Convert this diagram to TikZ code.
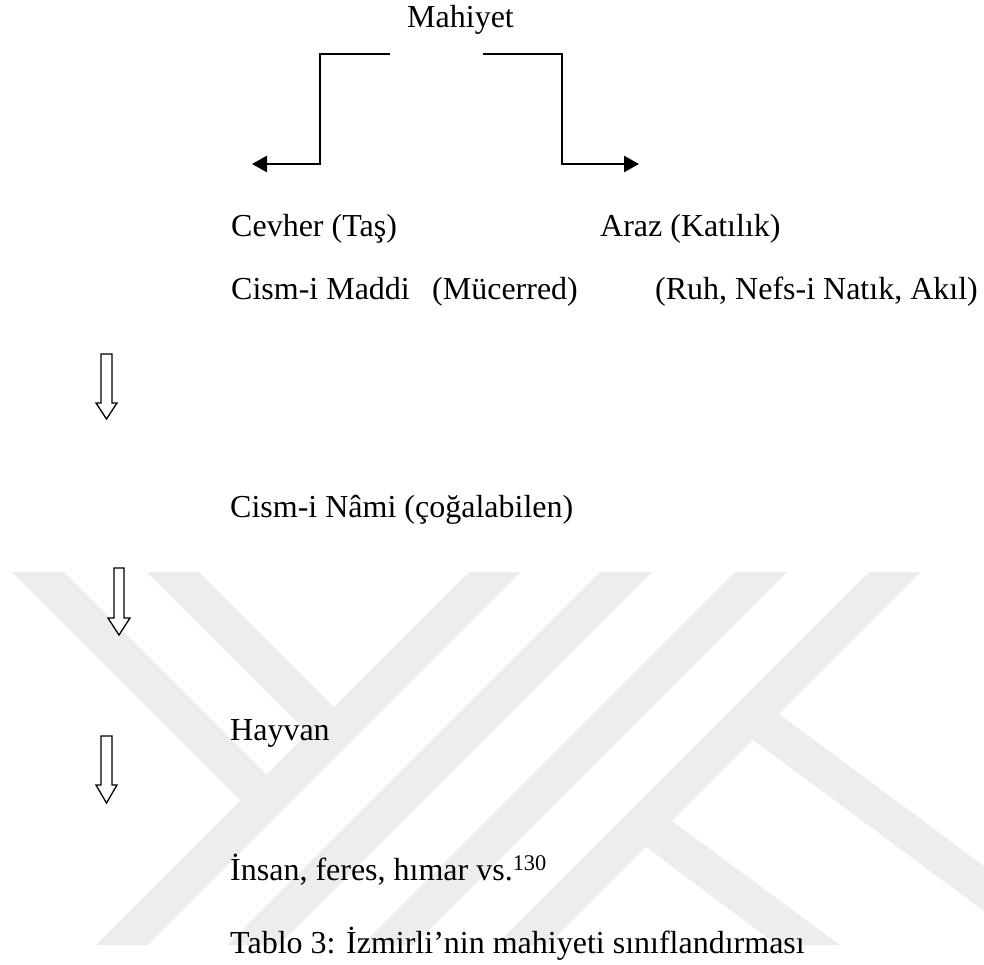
\documentclass[tikz,border=0pt]{standalone}
\usepackage{fontspec}
\setmainfont{Liberation Serif}
\usetikzlibrary{arrows.meta}
\tikzset{
  wm/.style={fill=black!7, draw=none},
  txt/.style={anchor=base west, inner sep=0pt, font=\fontsize{32}{38}\selectfont},
  elbow/.style={line width=2.7pt, -{Triangle[length=15pt,width=16pt]}},
  hollow/.style={draw=black, line width=1.3pt, fill=white, line join=miter},
}
\newcommand\downhollow[6]{%
  \draw[hollow] (#1-#2,#4) -- (#1+#2,#4) -- (#1+#2,#5) -- (#1+#3,#5) -- (#1,#6) -- (#1-#3,#5) -- (#1-#2,#5) -- cycle;}
\begin{document}
\begin{tikzpicture}[x=1pt,y=-1pt]
\useasboundingbox (0,0) rectangle (984,965);
% watermark
\fill[wm] (12,572) -- (64,572) -- (266.5,774.5) -- (240.5,800.5) -- cycle;
\fill[wm] (147,572) -- (199,572) -- (334,707) -- (308,733) -- cycle;
\fill[wm] (469,572) -- (521,572) -- (148,945) -- (96,945) -- cycle;
\fill[wm] (600,572) -- (652,572) -- (279,945) -- (227,945) -- cycle;
\fill[wm] (735,572) -- (787,572) -- (414,945) -- (362,945) -- cycle;
\fill[wm] (869,572) -- (921,572) -- (548,945) -- (496,945) -- cycle;
\fill[wm] (779,714) -- (984,866) -- (984,911) -- (753,740) -- cycle;
\fill[wm] (672,821) -- (840,945) -- (777,945) -- (646,847) -- cycle;
% texts
\node[txt] (mah) at (407,28) {Mahiyet};
\node[txt] (cevher) at (231,237) {Cevher (Taş)};
\node[txt] (araz) at (600,237) {Araz (Katılık)};
\node[txt] (maddi) at (231,300) {Cism-i Maddi};
\node[txt] (mucerred) at (432,300) {(Mücerred)};
\node[txt] (ruh) at (655,300) {(Ruh, Nefs-i Natık, Akıl)};
\node[txt] (nami) at (230,517) {Cism-i Nâmi (çoğalabilen)};
\node[txt] (hayvan) at (230,740) {Hayvan};
\node[txt] (insan) at (230,880) {İnsan, feres, hımar vs.\textsuperscript{130}};
\node[txt] (tablo) at (230,953) {Tablo 3: İzmirli’nin mahiyeti sınıflandırması};
% elbow connectors
\coordinate (lA) at (390,54);
\coordinate (lB) at (320,164);
\coordinate (ltip) at (252,164);
\coordinate (rA) at (483,54);
\coordinate (rB) at (562,164);
\coordinate (rtip) at (639,164);
\draw[elbow] (lA) -| (lB) -- (ltip);
\draw[elbow] (rA) -| (rB) -- (rtip);
% hollow down arrows
\downhollow{106.5}{5.5}{10.5}{354}{403}{419}
\downhollow{119}{5}{11}{568}{618}{635}
\downhollow{106.5}{5.5}{10.5}{736}{785}{803}
\end{tikzpicture}
\end{document}
